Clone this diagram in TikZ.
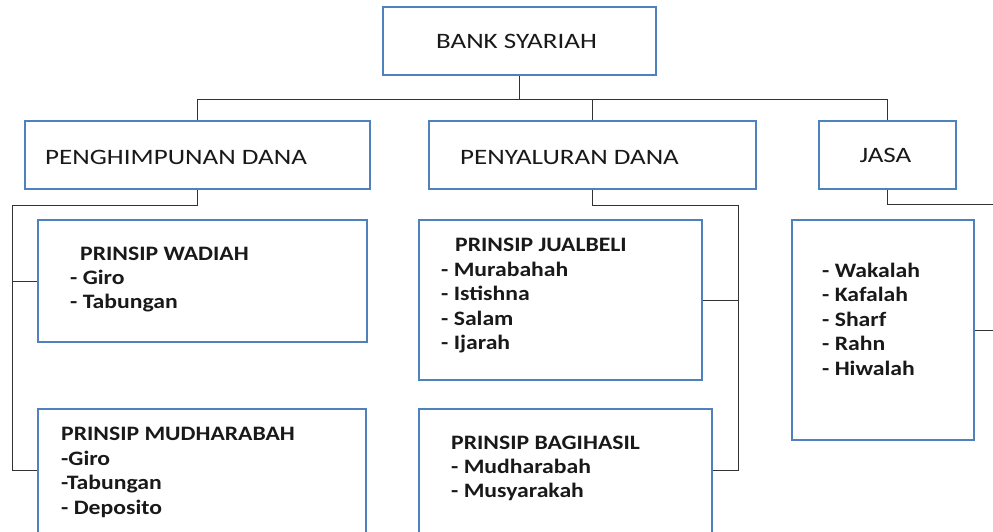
\documentclass[tikz,border=0pt]{standalone}
\usepackage{fontspec}
\setmainfont{Carlito}[FakeStretch=1.155]
\newfontfamily\headfont{Carlito}[FakeStretch=1.23]
\definecolor{boxblue}{HTML}{4F81BD}
\definecolor{linegray}{HTML}{333333}
\tikzset{
  box/.style={draw=boxblue, line width=2.6pt, fill=white, rectangle, inner sep=0pt},
  conn/.style={draw=linegray, line width=0.9pt},
  head/.style={font=\headfont\fontsize{22}{26}\selectfont, text=black!90, inner sep=0pt},
  title/.style={font=\bfseries\fontsize{20.5}{24.6}\selectfont, text=black!90, inner sep=0pt, anchor=base west},
  items/.style={font=\bfseries\fontsize{20.5}{24.6}\selectfont, text=black!90, inner sep=0pt, anchor=base west}
}
\newcommand{\itemlist}[1]{\begin{tabular}[t]{@{}l@{}}#1\end{tabular}}
\begin{document}
\begin{tikzpicture}[x=1pt,y=-1pt]
\clip (0,0) rectangle (993,531);
\fill[white] (0,0) rectangle (993,531);
% boxes
\node[box, minimum width=273pt, minimum height=68pt] (bank) at (519.5,41) {};
\node[box, minimum width=345pt, minimum height=68pt] (peng) at (197.5,155) {};
\node[box, minimum width=327pt, minimum height=68pt] (peny) at (592.5,155) {};
\node[box, minimum width=137pt, minimum height=68pt] (jasa) at (887.5,155) {};
\node[box, minimum width=329pt, minimum height=122pt] (wad) at (202.5,281) {};
\node[box, minimum width=328pt, minimum height=130pt] (mud) at (202,474) {};
\node[box, minimum width=283pt, minimum height=160pt] (jual) at (560.5,300) {};
\node[box, minimum width=293pt, minimum height=130pt] (bagi) at (565.5,474) {};
\node[box, minimum width=182pt, minimum height=220pt] (jlist) at (883,330) {};
% header texts
\node[head] (bankT) at ([xshift=-3pt]bank.center) {BANK SYARIAH};
\node[head] (jasaT) at ([xshift=-2pt]jasa.center) {JASA};
\node[head, anchor=base west] (pengT) at (45,164) {PENGHIMPUNAN DANA};
\node[head, anchor=base west] (penyT) at (460,164) {PENYALURAN DANA};
% contents
\node[title] (wadT) at (80,260) {PRINSIP WADIAH};
\node[items] (wadL) at (70,284) {\itemlist{- Giro\\- Tabungan}};
\node[title] (mudT) at (61,440) {PRINSIP MUDHARABAH};
\node[items] (mudL) at (61,465) {\itemlist{-Giro\\-Tabungan\\- Deposito}};
\node[title] (jualT) at (455,251) {PRINSIP JUALBELI};
\node[items] (jualL) at (441,276) {\itemlist{- Murabahah\\- Istishna\\- Salam\\- Ijarah}};
\node[title] (bagiT) at (451,449) {PRINSIP BAGIHASIL};
\node[items] (bagiL) at (451,473) {\itemlist{- Mudharabah\\- Musyarakah}};
\node[items] (jasaL) at (822,277) {\itemlist{- Wakalah\\- Kafalah\\- Sharf\\- Rahn\\- Hiwalah}};
% connectors
\draw[conn] (bank.south) -- ++(0,23) coordinate (bus) -| (peng.north);
\draw[conn] (bus) -| (peny.north);
\draw[conn] (bus) -| (jasa.north);
\draw[conn] (peng.south) -- ++(0,15) -- ++(-185.5,0) coordinate (lv) |- ([yshift=4pt]mud.west);
\draw[conn] (lv) |- (wad.west);
\draw[conn] (peny.south) -- ++(0,15) -- ++(146,0) coordinate (rv) |- ([yshift=4pt]bagi.east);
\draw[conn] (rv) |- (jual.east);
\coordinate (jr) at (1000,204);
\draw[conn] (jasa.south) |- (jr);
\draw[conn] (jlist.east) -- (jlist.east -| jr);
\end{tikzpicture}
\end{document}
